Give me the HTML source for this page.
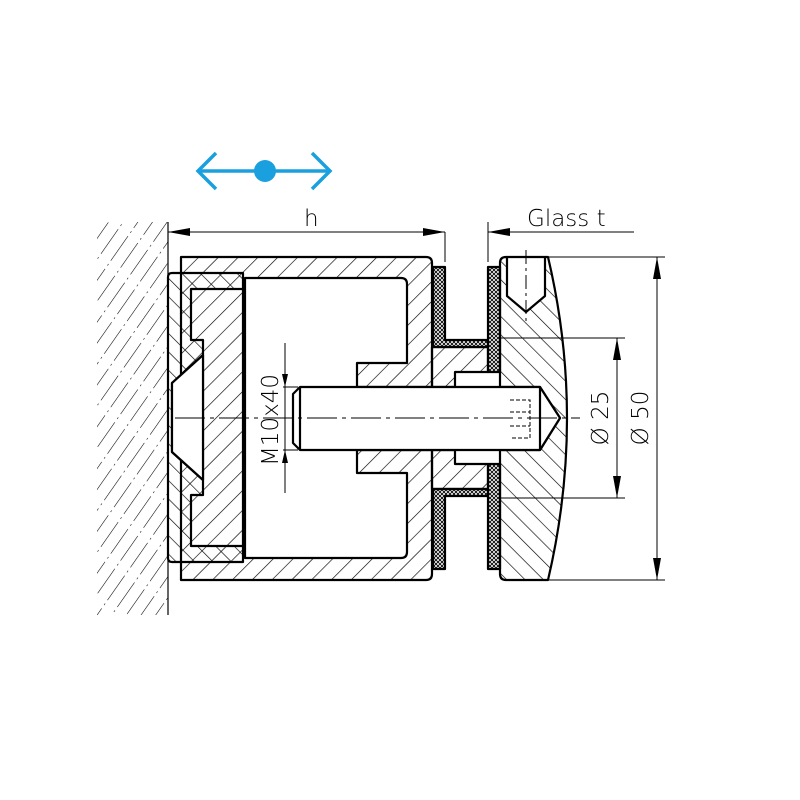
<!DOCTYPE html>
<html><head><meta charset="utf-8"><style>html,body{margin:0;padding:0;background:#fff}svg{display:block}</style></head>
<body>
<svg width="800" height="800" viewBox="0 0 800 800" xmlns="http://www.w3.org/2000/svg">
<defs>
<pattern id="h1" patternUnits="userSpaceOnUse" width="14" height="14" patternTransform="rotate(45)"><line x1="0" y1="0" x2="0" y2="14" stroke="#000" stroke-width="1.3"/></pattern>
<pattern id="h2" patternUnits="userSpaceOnUse" width="13" height="13" patternTransform="rotate(-45)"><line x1="0" y1="0" x2="0" y2="13" stroke="#000" stroke-width="1.3"/></pattern>
<pattern id="hw" patternUnits="userSpaceOnUse" width="12" height="40" patternTransform="rotate(35)"><line x1="0" y1="0" x2="0" y2="30" stroke="#000" stroke-width="1.1"/><line x1="0" y1="34" x2="0" y2="36" stroke="#000" stroke-width="1.1"/></pattern>
<pattern id="x" patternUnits="userSpaceOnUse" width="4" height="4"><rect width="4" height="4" fill="#fff"/><path d="M0,0L4,4M4,0L0,4" stroke="#000" stroke-width="0.9"/></pattern>
</defs>
<rect x="97" y="222" width="71" height="393" fill="url(#hw)"/>
<line x1="168" y1="222" x2="168" y2="615" stroke="#000" stroke-width="1.2"/>
<g stroke="#000" stroke-width="2.2" stroke-linejoin="round">
<path fill="url(#h1)" fill-rule="evenodd" d="M181,257H426Q432,257 432,263V574Q432,580 426,580H181Z M245,278H401Q407,278 407,284V363H357V473H407V552Q407,558 401,558H245Z M357,387H432V450H357Z"/>
<path fill="url(#h1)" d="M432,347H488V372H455V387H432Z"/>
<path fill="url(#h1)" d="M432,489H488V464H455V450H432Z"/>
<path fill="url(#h2)" fill-rule="evenodd" d="M172,273H243V562H172Q168,562 168,558V277Q168,273 172,273Z M191,289H243V546H191V495H203V340H191Z M172,383L203,355V480L172,452Z"/>
<path fill="#fff" d="M172,383L203,355V480L172,452Z"/>
<path fill="url(#x)" d="M433,267H445V340H490V347H433Z"/>
<path fill="url(#x)" d="M433,569H445V496H490V489H433Z"/>
<path fill="url(#x)" d="M488,267H500V372H488Z"/>
<path fill="url(#x)" d="M488,569H500V464H488Z"/>
<path fill="url(#h2)" fill-rule="evenodd" d="M506,257H548Q586,418 548,580H506Q500,580 500,574V263Q500,257 506,257Z M500,387H540L560,418L540,450H500Z M507,257H545V296L526,312L507,296Z"/>
<path fill="#fff" d="M300,387H540L560,418L540,450H300L293,443V394Z"/>
<line x1="300" y1="387" x2="300" y2="450"/>
<line x1="540" y1="387" x2="540" y2="450"/>
</g>
<g stroke="#000" stroke-width="1" fill="none">
<path d="M510,400H530V438H510" stroke-dasharray="4,2"/>
<line x1="510" y1="412" x2="530" y2="412" stroke-dasharray="4,2"/>
<line x1="510" y1="426" x2="530" y2="426" stroke-dasharray="4,2"/>
<line x1="175" y1="418" x2="580" y2="418" stroke-dasharray="30,5,4,5"/>
<line x1="526" y1="250" x2="526" y2="322" stroke-dasharray="14,4,3,4"/>
<line x1="168" y1="232" x2="445" y2="232"/>
<line x1="445" y1="232" x2="445" y2="262"/>
<line x1="488" y1="222" x2="488" y2="262"/>
<line x1="488" y1="232" x2="634" y2="232"/>
<line x1="548" y1="257" x2="665" y2="257"/>
<line x1="548" y1="580" x2="665" y2="580"/>
<line x1="657" y1="257" x2="657" y2="580"/>
<line x1="500" y1="338" x2="625" y2="338"/>
<line x1="500" y1="498" x2="625" y2="498"/>
<line x1="617" y1="338" x2="617" y2="498"/>
<line x1="285" y1="343" x2="285" y2="493"/>
<line x1="283" y1="387" x2="298" y2="387"/>
<line x1="283" y1="450" x2="298" y2="450"/>
</g>
<g fill="#000">
<path d="M168,232l22,-4v8z"/><path d="M445,232l-22,-4v8z"/><path d="M488,232l22,-4v8z"/>
<path d="M657,257l-4,22h8z"/><path d="M657,580l-4,-22h8z"/>
<path d="M617,338l-4,22h8z"/><path d="M617,498l-4,-22h8z"/>
<path d="M285,387l-3,-13h6z"/><path d="M285,450l-3,13h6z"/>
</g>
<g font-family="DejaVu Sans, sans-serif" font-weight="200" font-size="23" fill="#000">
<text x="304" y="226">h</text>
<text x="527" y="226">Glass t</text>
<text transform="translate(278,420) rotate(-90)" text-anchor="middle">M10x40</text>
<text transform="translate(608,418) rotate(-90)" text-anchor="middle">Ø 25</text>
<text transform="translate(648,418) rotate(-90)" text-anchor="middle">Ø 50</text>
</g>
<g stroke="#1a9fdf" stroke-width="3.5" fill="none">
<line x1="198" y1="171" x2="330" y2="171"/>
<path d="M216,153L198,171L216,189"/>
<path d="M312,153L330,171L312,189"/>
</g>
<circle cx="265" cy="171" r="11" fill="#1a9fdf"/>
</svg>
</body></html>
